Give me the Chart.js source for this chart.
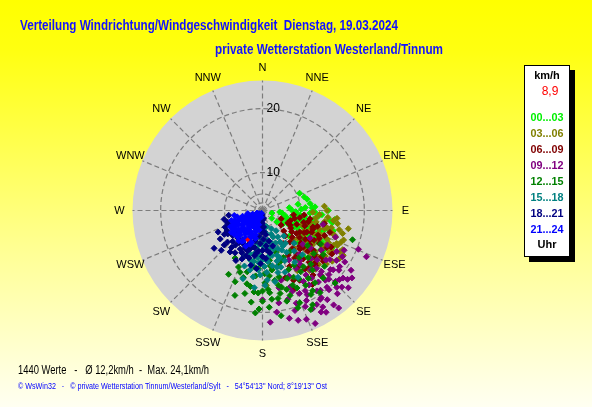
<!DOCTYPE html>
<html>
<head>
<meta charset="utf-8">
<script src="https://cdn.jsdelivr.net/npm/chart.js@4.4.1/dist/chart.umd.min.js"></script>
<style>
    html, body { margin: 0; padding: 0; }
    body {
        width: 592px;
        height: 407px;
        overflow: hidden;
        background: linear-gradient(to bottom, #ffff00 0%, #ffff10 12%, #ffff90 60%, #fffff2 100%);
    }
    canvas { display: block; }
</style>
</head>
<body>
<canvas id="windRose" width="592" height="407"></canvas>
<script>
// Legend / time slots
const timeRanges = ['00...03', '03...06', '06...09', '09...12', '12...15', '15...18', '18...21', '21...24'];
const compassLabels = ['N', 'NNE', 'NE', 'ENE', 'E', 'ESE', 'SE', 'SSE', 'S', 'SSW', 'SW', 'WSW', 'W', 'WNW', 'NW', 'NNW'];
const ringSpeeds = [2.5, 5, 10, 20];
const ringLabelSpeeds = [10, 20];

// Wind samples [direction in degrees, speed in km/h]
const winds0003 = [[65,10.6],[72,11.2],[86,12.8],[93,11.9],[98,15.3],[97,16.1],[124,15.7],[128,16.6],[105,3.1],[128,5.5],
    [97,5.8],[97,10.0],[110,11.9],[87,12.3],[102,11.2],[107,7.3],[115,9.1],[130,3.8],[95,5.2],[89,8.1],
    [100,8.4],[112,6.4],[92,9.0],[104,13.0],[110,14.2],[118,12.6],[122,10.8],[116,13.8],[108,9.6],[100,12.6],
    [94,14.0],[88,10.2],[80,9.6],[82,12.0],[120,14.8],[126,13.2],[132,12.0],[114,15.6],[106,16.2],[90,15.0],
    [118,8.0],[124,7.0],[102,6.6],[112,11.0],[96,13.4],[84,7.6],[76,11.6],[134,9.8],[138,14.4],[108,14.8],
    [112,14.0],[118,15.2],[122,16.2],[128,15.0],[106,12.4],[114,12.8],[120,11.6],[116,10.2],[104,10.4],[98,11.0],
    [92,12.8],[126,12.2],[130,14.0],[110,13.2],[102,14.4],[96,9.4],[86,11.0],[108,8.2],[120,9.4],[114,7.6],
    [124,13.8],[100,15.8],[132,16.2],[118,17.0],[106,15.4]];
const winds0306 = [[86,14.4],[98,15.9],[105,15.2],[109,16.6],[114,17.3],[116,16.2],[115,17.5],[119,18.8],[177,16.4],[102,13.2],
    [108,14.0],[112,15.0],[118,14.6],[122,15.8],[126,16.8],[104,17.0],[110,18.0],[120,17.2],[128,15.2],[132,13.8],
    [124,12.8],[116,11.6],[106,11.8],[100,14.6],[94,13.6],[112,12.6],[118,16.0],[130,17.6],[136,15.6],[140,12.2],
    [134,11.0],[126,14.0],[108,16.2],[114,13.4],[96,16.4],[102,18.2],[122,18.6],[128,11.4],[144,14.4],[138,17.0],
    [110,10.8],[120,12.0],[92,12.4],[106,14.8],[116,18.4],[130,16.0],[150,15.6],[142,16.6],
    [104,15.8],[110,16.8],[116,17.0],[122,17.0],[112,17.8],[100,16.6],[118,18.2],[124,14.2],[106,17.6],[98,13.0],
    [114,15.8],[120,15.4],[108,12.8],[126,18.0],[132,15.0],[96,15.0],[90,14.8],[134,16.8],[104,12.2],[112,14.2]];
const winds0609 = [[101,10.0],[116,7.9],[108,12.9],[114,14.2],[139,10.8],[161,15.8],[135,16.3],[120,11.0],[120,16.3],[104,9.0],
    [110,11.4],[126,9.6],[130,12.4],[122,13.4],[112,15.2],[128,14.8],[136,13.0],[142,12.0],[118,8.6],[132,10.4],
    [106,13.6],[100,12.0],[96,10.8],[124,15.8],[140,14.6],[146,13.6],[150,12.6],[116,12.2],[134,8.2],[126,11.6],
    [108,15.8],[118,16.8],[130,17.0],[144,16.0],[154,14.4],[112,9.8],[138,9.2],[148,10.2],[102,14.6],[122,9.0],
    [128,6.8],[114,6.0],[132,15.6],[120,14.0],[110,8.2],[136,11.4],[142,17.4],[156,16.6],[124,12.6],[98,8.6],
    [126,13.8],[132,14.2],[138,15.6],[144,17.6],[120,15.0],[114,13.0],[106,11.0],[130,15.4],[136,16.6],[148,15.2],
    [152,17.0],[140,16.2],[118,11.8],[124,10.6],[134,12.6],[128,16.4],[116,14.6],[110,13.0],[142,13.4],[146,18.4],
    [158,17.8],[122,17.4],[138,18.2],[104,11.8],[132,13.2]];
const winds0912 = [[148,22.1],[112,20.2],[119,17.8],[103,14.4],[127,21.2],[129,20.9],[143,21.9],[153,21.0],[162,20.4],[160,17.3],
    [180,18.4],[172,20.1],[166,21.1],[141,16.6],[126,17.6],[144,19.6],[143,14.4],[135,15.4],[130,18.8],[138,18.0],
    [150,17.4],[156,18.6],[146,20.4],[134,20.0],[122,19.4],[116,18.6],[132,16.2],[140,13.6],[150,15.2],[158,15.8],
    [164,18.8],[154,19.8],[138,21.2],[124,15.8],[118,16.2],[128,14.2],[146,16.8],[136,19.2],[152,13.4],[168,17.0],
    [142,22.5],[130,12.8],[110,16.8],[114,21.4],[150,20.8],[158,21.8],[170,19.0],[176,21.2],[140,19.8],[148,18.2],
    [132,21.6],[124,20.6],[160,19.6],[145,15.0],[137,17.0],[155,22.6],[120,13.2],[165,16.0],
    [131,18.5],[132,20.2],[147,20.5],[128,19.4],[134,18.8],[136,20.6],[126,19.2],[140,20.2],[144,21.0],[150,21.8],
    [152,19.2],[156,20.4],[130,20.4],[138,19.0],[142,18.6],[146,19.4],[134,21.0],[128,17.2],[124,18.4],[120,18.8],
    [148,21.4],[162,21.6],[136,17.8],[144,17.6],[152,18.6],[160,18.0]];
const winds1215 = [[203,14.3],[196,15.6],[201,16.6],[189,16.7],[183,17.5],[187,18.8],[184,20.1],[175,17.5],[170,18.4],[158,19.7],
    [148,19.1],[108,19.1],[171,14.1],[163,17.5],[145,19.8],[135,20.1],[144,18.4],[178,16.0],[166,15.4],[155,16.2],
    [150,14.6],[160,13.0],[172,12.4],[140,16.8],[132,17.6],[150,18.0],[158,17.2],[168,16.6],[180,18.6],[192,17.8],
    [176,19.4],[165,19.0],[152,20.6],[142,14.0],[136,15.0],[128,13.6],[146,12.2],[162,11.2],[184,13.8],[194,14.6],
    [208,16.0],[198,18.4],[170,20.6],[186,15.0],[156,14.8],[138,18.6],[126,16.4],[120,15.2],[154,21.0],[174,15.0],
    [164,13.6],[148,16.0],[210,13.2],[190,12.6],
    [156,17.8],[162,18.4],[168,17.8],[174,18.4],[180,17.2],[186,17.4],[192,16.4],[200,15.0],[152,16.8],[146,17.4],
    [160,16.0],[170,15.8],[178,14.6],[188,13.6],[144,15.6],[150,19.4],[160,20.2],[166,17.0],[176,17.0],[182,19.6],
    [172,13.4],[156,12.6],[138,16.0],[130,15.2]];
const winds1518 = [[172,6.5],[160,7.2],[184,7.8],[150,8.4],[170,8.3],[151,9.6],[164,9.2],[178,9.6],[188,10.2],[158,10.6],
    [145,10.4],[170,10.9],[182,11.4],[194,12.5],[162,11.8],[150,12.0],[176,12.2],[191,13.3],[166,14.7],[176,15.6],
    [184,14.0],[156,13.2],[142,12.6],[170,13.4],[198,13.8],[188,15.2],[178,16.4],[160,15.0],[148,14.2],[136,11.5],
    [140,9.0],[154,6.0],[180,5.5],[166,5.0],[192,8.8],[200,10.8],[186,16.8],[170,16.0],[152,16.5],[196,15.8],
    [164,12.8],[172,11.6],[184,12.8],[158,8.0],[146,7.0],[176,14.4],[190,11.0],[168,9.8],[202,12.2],[138,14.0],
    [164,10.4],[168,11.6],[174,12.6],[180,12.2],[186,11.8],[190,12.6],[160,12.4],[154,11.2],[172,10.2],[178,13.4],
    [182,14.8],[192,14.2],[158,9.4],[150,10.6],[166,13.8],[174,8.8],[186,9.2],[196,11.4],[162,14.0],[180,8.4]];
const winds1821 = [[182,1.5],[178,3.0],[186,4.2],[176,5.0],[190,5.6],[182,6.4],[172,7.0],[188,7.4],[178,8.0],[193,8.6],
    [184,9.0],[174,9.5],[196,9.9],[186,10.6],[200,11.0],[190,11.6],[210,11.3],[213,12.4],[218,12.8],[196,12.2],
    [232,14.3],[211,10.0],[205,10.8],[224,11.0],[238,11.4],[246,10.6],[252,9.8],[228,11.8],[216,10.4],[220,12.0],
    [203,12.8],[198,10.5],[170,11.0],[176,12.0],[182,12.9],[236,12.5],[244,12.2],[257,10.3],[262,9.2],[202,9.6],
    [192,13.4],[230,10.2],[180,10.4],[168,8.6],[194,3.4],[172,2.5],[208,13.5],[226,13.6],[186,13.8],[164,9.8],
    [214,9.4],[222,9.8],[230,8.8],[242,9.2],[250,9.8],[236,10.8],[208,10.2],[200,12.0],[188,11.0],[180,11.6],
    [176,6.2],[184,5.4],[180,4.0],[228,12.6],[240,10.6],[218,11.2],[192,10.0],[206,11.8],[196,8.0],[174,10.4]];
const winds2124 = [[200,1.0],[225,1.5],[245,2.0],[190,2.2],[215,2.8],[235,3.0],[250,3.3],[205,3.6],[228,4.0],[242,4.2],
    [195,4.5],[215,4.8],[252,5.0],[232,5.3],[205,5.6],[244,5.9],[220,6.1],[198,6.4],[236,6.6],[210,6.9],
    [248,7.0],[226,7.3],[202,7.6],[240,7.8],[216,8.1],[232,8.4],[207,8.6],[245,8.8],[222,9.0],[238,9.3],
    [212,9.5],[199,9.1],[230,9.8],[218,10.1],[205,10.3],[243,9.6],[250,8.2],[256,7.4],[254,6.1],[258,4.6],
    [208,3.0],[222,5.5],[238,2.5],[196,7.2],[213,7.5],[229,6.0],[247,3.8],[219,3.4],[204,8.3],[226,8.8],
    [235,10.0],[212,2.0],[190,5.8],[194,8.0],[240,5.2],[232,1.8],[252,8.9],[260,8.0],[236,4.5],[224,9.6],
    [210,4.0],[230,4.8],[244,6.6],[218,7.0],[228,8.0],[240,8.6],[212,8.9],[200,9.6],[222,7.8],[234,7.2],
    [248,5.8],[216,5.8],[206,5.0],[196,5.6],[226,3.0],[240,3.6],[250,6.8],[234,9.0],[214,9.8],[202,4.2],
    [220,1.5],[236,6.0],[246,8.0],[208,7.2],[230,2.2]];
const currentWind = [[207, 8.9]];

const windGroups = [winds0003, winds0306, winds0609, winds0912, winds1215, winds1518, winds1821, winds2124];
const rangeColors = ['#00f000', '#808000', '#800000', '#800080', '#008000', '#008080', '#000080', '#0000ff'];

// Radial scale of the rose (display units, outer edge = 130) - not linear in km/h
const OUTER_RADIUS = 130;
const LABEL_RADIUS = 143;
const RING_A = 55.5;
const RING_B = 0.0521;
const speedToRadius = kmh => Math.min(RING_A * (Math.exp(RING_B * kmh) - 1), OUTER_RADIUS);

const toPoint = ([dir, kmh]) => {
    const r = speedToRadius(kmh);
    const a = dir * Math.PI / 180;
    return { x: r * Math.sin(a), y: r * Math.cos(a) };
};

const roseGrid = {
    id: 'roseGrid',
    beforeDatasetsDraw(chart) {
        const { ctx, scales: { x, y } } = chart;
        const at = (r, deg) => {
            const a = deg * Math.PI / 180;
            return [x.getPixelForValue(r * Math.sin(a)), y.getPixelForValue(r * Math.cos(a))];
        };
        const [cx, cy] = at(0, 0);
        const radiusPx = r => x.getPixelForValue(r) - cx;

        ctx.save();
        ctx.fillStyle = '#d3d3d3';
        ctx.beginPath();
        ctx.arc(cx, cy, radiusPx(OUTER_RADIUS), 0, Math.PI * 2);
        ctx.fill();

        ctx.strokeStyle = '#7c7c7c';
        ctx.lineWidth = 1.2;
        ctx.setLineDash([5, 3]);
        ringSpeeds.forEach(s => {
            ctx.beginPath();
            ctx.arc(cx, cy, radiusPx(speedToRadius(s)), 0, Math.PI * 2);
            ctx.stroke();
        });
        compassLabels.forEach((_, i) => {
            const [ex, ey] = at(OUTER_RADIUS, i * 22.5);
            ctx.beginPath();
            ctx.moveTo(cx, cy);
            ctx.lineTo(ex, ey);
            ctx.stroke();
        });
        ctx.setLineDash([]);

        ctx.fillStyle = '#000';
        ctx.font = '12px "Liberation Sans", Arial, sans-serif';
        ctx.textAlign = 'left';
        ctx.textBaseline = 'middle';
        ringLabelSpeeds.forEach(s => {
            const [, ly] = at(speedToRadius(s), 0);
            ctx.fillText(String(s), cx + 4, ly);
        });

        ctx.font = '11px "Liberation Sans", Arial, sans-serif';
        ctx.textAlign = 'center';
        compassLabels.forEach((label, i) => {
            const [lx, ly] = at(LABEL_RADIUS, i * 22.5);
            ctx.fillText(label, lx, ly);
        });
        ctx.restore();
    }
};

const pageTexts = {
    id: 'pageTexts',
    afterDraw(chart) {
        const ctx = chart.ctx;
        ctx.save();
        ctx.textBaseline = 'alphabetic';
        ctx.textAlign = 'left';

        ctx.fillStyle = '#1212ff';
        ctx.font = 'bold 14px "Liberation Sans", Arial, sans-serif';
        ctx.fillText('Verteilung Windrichtung/Windgeschwindigkeit  Dienstag, 19.03.2024', 20, 30, 378);
        ctx.fillText('private Wetterstation Westerland/Tinnum', 215, 54, 228);

        ctx.fillStyle = '#000';
        ctx.font = '12px "Liberation Sans", Arial, sans-serif';
        ctx.fillText('1440 Werte   -   \u00d8 12,2km/h  -  Max. 24,1km/h', 18, 374, 191);

        ctx.fillStyle = '#0000ff';
        ctx.font = '9px "Liberation Sans", Arial, sans-serif';
        ctx.fillText('\u00a9 WsWin32   -   \u00a9 private Wetterstation Tinnum/Westerland/Sylt   -   54\u00b054\'13\'\' Nord; 8\u00b019\'13\'\' Ost', 18, 389, 309);

        // legend box with shadow
        ctx.fillStyle = '#000';
        ctx.fillRect(529, 70, 46, 192);
        ctx.fillStyle = '#fff';
        ctx.fillRect(524, 65, 46, 192);
        ctx.strokeStyle = '#000';
        ctx.lineWidth = 1;
        ctx.strokeRect(524.5, 65.5, 45, 191);

        ctx.textAlign = 'center';
        ctx.textBaseline = 'middle';
        ctx.font = 'bold 11px "Liberation Sans", Arial, sans-serif';
        ctx.fillStyle = '#000';
        ctx.fillText('km/h', 547, 76);
        ctx.font = '12px "Liberation Sans", Arial, sans-serif';
        ctx.fillStyle = '#ff0000';
        ctx.fillText(currentWind[0][1].toFixed(1).replace('.', ','), 550, 92);
        ctx.font = 'bold 11px "Liberation Sans", Arial, sans-serif';
        timeRanges.forEach((label, i) => {
            ctx.fillStyle = rangeColors[i];
            ctx.fillText(label, 547, 118 + i * 16, 33);
        });
        ctx.fillStyle = '#000';
        ctx.fillText('Uhr', 547, 245);
        ctx.restore();
    }
};

const datasets = windGroups.map((group, i) => ({
    label: timeRanges[i],
    data: group.map(toPoint),
    backgroundColor: rangeColors[i],
    borderColor: rangeColors[i],
    borderWidth: 1,
    pointStyle: 'rectRot',
    pointRadius: 3,
    order: windGroups.length - i,
    clip: false
}));
datasets.push({
    label: 'aktuell',
    data: currentWind.map(toPoint),
    backgroundColor: '#ff0000',
    borderColor: '#ff0000',
    borderWidth: 0,
    pointStyle: 'rectRot',
    pointRadius: 2.5,
    order: 0,
    clip: false
});

new Chart(document.getElementById('windRose'), {
    type: 'scatter',
    data: { datasets },
    options: {
        responsive: false,
        animation: false,
        events: [],
        layout: {
            padding: { left: 132.5, right: 199.5, top: 80.5, bottom: 66.5 }
        },
        scales: {
            x: { type: 'linear', min: -OUTER_RADIUS, max: OUTER_RADIUS, display: false },
            y: { type: 'linear', min: -OUTER_RADIUS, max: OUTER_RADIUS, display: false }
        },
        plugins: {
            legend: { display: false },
            tooltip: { enabled: false }
        }
    },
    plugins: [roseGrid, pageTexts]
});
</script>
</body>
</html>
